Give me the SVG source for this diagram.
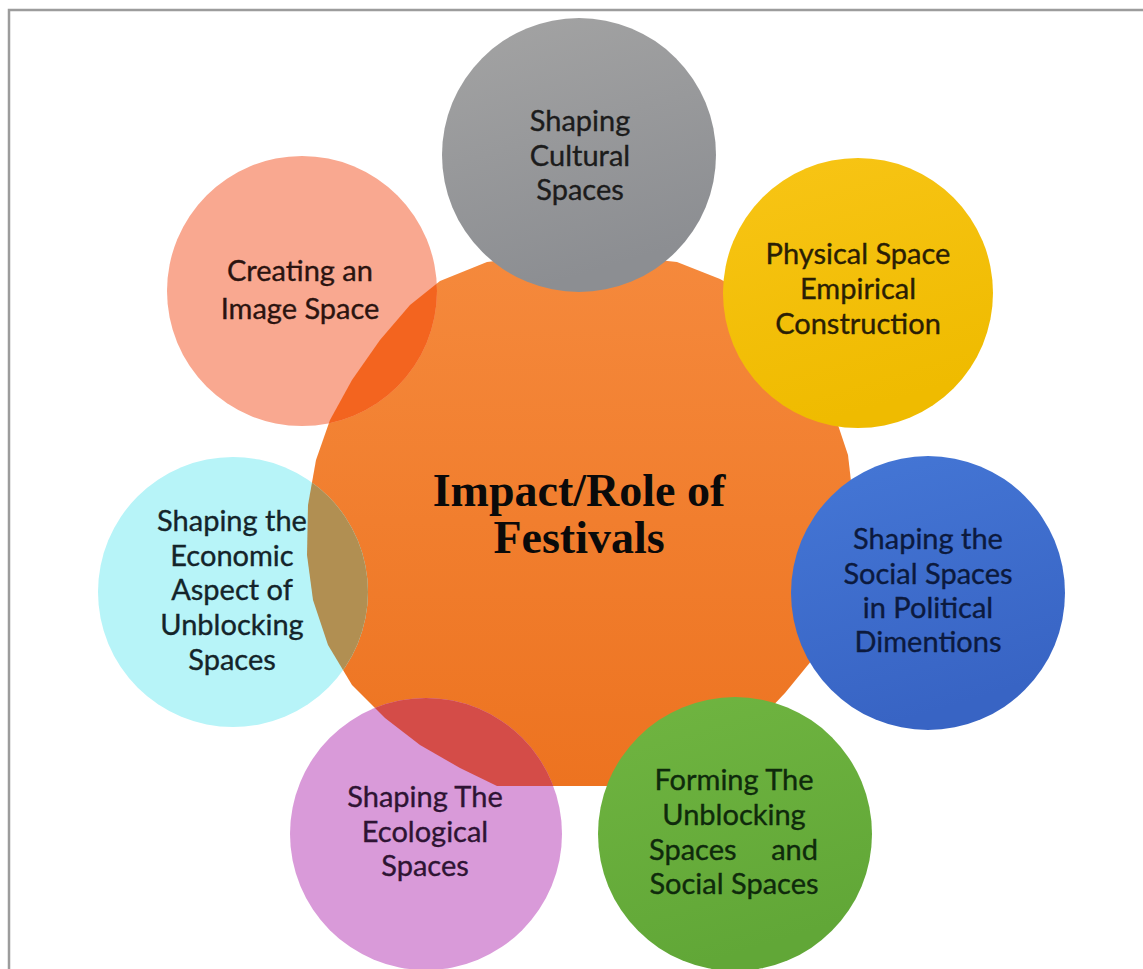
<svg xmlns="http://www.w3.org/2000/svg" width="1143" height="969" viewBox="0 0 1143 969">
  <style>
    .lbl { font-family: Lato, "Open Sans", "Liberation Sans", sans-serif; font-size: 29px; text-anchor: middle; fill: #1c1c1c; stroke-width: 0.35px; }
    .title { font-family: "Liberation Serif", "Times New Roman", serif; font-size: 46px; font-weight: bold; text-anchor: middle; fill: #0a0a0a; }
    .frame { stroke: #9c9c9c; stroke-width: 2.5; fill: none; }
  </style>
  <defs>
    <linearGradient id="gOrange" x1="0" y1="0" x2="0" y2="1">
      <stop offset="0" stop-color="#f5893c"/>
      <stop offset="1" stop-color="#ed7320"/>
    </linearGradient>
    <linearGradient id="gGray" x1="0" y1="0" x2="0.3" y2="1">
      <stop offset="0" stop-color="#a4a4a4"/>
      <stop offset="1" stop-color="#8c8e92"/>
    </linearGradient>
    <linearGradient id="gYellow" x1="0" y1="0" x2="0.3" y2="1">
      <stop offset="0" stop-color="#f8c516"/>
      <stop offset="1" stop-color="#efbb00"/>
    </linearGradient>
    <linearGradient id="gBlue" x1="0" y1="0" x2="0.3" y2="1">
      <stop offset="0" stop-color="#4577d6"/>
      <stop offset="1" stop-color="#3864c4"/>
    </linearGradient>
    <linearGradient id="gGreen" x1="0" y1="0" x2="0.3" y2="1">
      <stop offset="0" stop-color="#70b541"/>
      <stop offset="1" stop-color="#61a737"/>
    </linearGradient>
    <clipPath id="clipOrange">
      <path d="M580,256 L630,257 L677,262 L720,279 L760,302 L795,335 L822,385 L838,425 L848,455 L852,490 L852,530 L848,575 L835,620 L812,660 L785,693 L750,730 L710,760 L670,782 L657,786 L497,786 L460,768 L420,745 L385,718 L352,685 L328,645 L313,600 L307,555 L308,505 L316,460 L330,420 L352,380 L380,340 L410,305 L440,281 L487,262 L530,257 Z"/>
    </clipPath>
  </defs>

  <rect x="0" y="0" width="1143" height="969" fill="#ffffff"/>
  <path class="frame" d="M9,969 L9,10 L1143,10"/>

  <g id="node-center">
    <path d="M580,256 L630,257 L677,262 L720,279 L760,302 L795,335 L822,385 L838,425 L848,455 L852,490 L852,530 L848,575 L835,620 L812,660 L785,693 L750,730 L710,760 L670,782 L657,786 L497,786 L460,768 L420,745 L385,718 L352,685 L328,645 L313,600 L307,555 L308,505 L316,460 L330,420 L352,380 L380,340 L410,305 L440,281 L487,262 L530,257 Z" fill="url(#gOrange)"/>
  </g>

  <g id="node-cultural">
    <circle cx="579" cy="155" r="137" fill="url(#gGray)"/>
    <text class="lbl" x="580" y="131" style="stroke:#1c1c1c">Shaping</text>
    <text class="lbl" x="580" y="166" style="stroke:#1c1c1c">Cultural</text>
    <text class="lbl" x="580" y="200" style="stroke:#1c1c1c">Spaces</text>
  </g>

  <g id="node-physical">
    <circle cx="858" cy="293" r="135" fill="url(#gYellow)"/>
    <text class="lbl" x="858" y="264" style="fill:#2a1e05;stroke:#2a1e05">Physical Space</text>
    <text class="lbl" x="858" y="299" style="fill:#2a1e05;stroke:#2a1e05">Empirical</text>
    <text class="lbl" x="858" y="334" style="fill:#2a1e05;stroke:#2a1e05">Construction</text>
  </g>

  <g id="node-image">
    <circle cx="302" cy="291" r="135" fill="#f9a890"/>
    <circle cx="302" cy="291" r="135" fill="#f3641f" clip-path="url(#clipOrange)"/>
    <text class="lbl" x="300" y="281" style="fill:#2b1410;stroke:#2b1410">Creating an</text>
    <text class="lbl" x="300" y="319" style="fill:#2b1410;stroke:#2b1410">Image Space</text>
  </g>

  <g id="node-economic">
    <circle cx="233" cy="592" r="135" fill="#b7f4f8"/>
    <circle cx="233" cy="592" r="135" fill="#b18f52" clip-path="url(#clipOrange)"/>
    <text class="lbl" x="232" y="531" style="fill:#14242a;stroke:#14242a">Shaping the</text>
    <text class="lbl" x="232" y="566" style="fill:#14242a;stroke:#14242a">Economic</text>
    <text class="lbl" x="232" y="600" style="fill:#14242a;stroke:#14242a">Aspect of</text>
    <text class="lbl" x="232" y="635" style="fill:#14242a;stroke:#14242a">Unblocking</text>
    <text class="lbl" x="232" y="670" style="fill:#14242a;stroke:#14242a">Spaces</text>
  </g>

  <g id="node-political">
    <circle cx="928" cy="593" r="137" fill="url(#gBlue)"/>
    <text class="lbl" x="928" y="549" style="fill:#0c1a3e;stroke:#0c1a3e">Shaping the</text>
    <text class="lbl" x="928" y="584" style="fill:#0c1a3e;stroke:#0c1a3e">Social Spaces</text>
    <text class="lbl" x="928" y="618" style="fill:#0c1a3e;stroke:#0c1a3e">in Political</text>
    <text class="lbl" x="928" y="652" style="fill:#0c1a3e;stroke:#0c1a3e">Dimentions</text>
  </g>

  <g id="node-ecological">
    <circle cx="426" cy="834" r="136" fill="#d99ad9"/>
    <circle cx="426" cy="834" r="136" fill="#d44c48" clip-path="url(#clipOrange)"/>
    <text class="lbl" x="425" y="807" style="fill:#2e1433;stroke:#2e1433">Shaping The</text>
    <text class="lbl" x="425" y="842" style="fill:#2e1433;stroke:#2e1433">Ecological</text>
    <text class="lbl" x="425" y="876" style="fill:#2e1433;stroke:#2e1433">Spaces</text>
  </g>

  <g id="node-unblocking">
    <circle cx="735" cy="834" r="137" fill="url(#gGreen)"/>
    <text class="lbl" x="734" y="790" style="fill:#0f2a0c;stroke:#0f2a0c">Forming The</text>
    <text class="lbl" x="734" y="825" style="fill:#0f2a0c;stroke:#0f2a0c">Unblocking</text>
    <text class="lbl" y="860" style="fill:#0f2a0c;stroke:#0f2a0c"><tspan x="649" text-anchor="start">Spaces</tspan><tspan x="818" text-anchor="end">and</tspan></text>
    <text class="lbl" x="734" y="894" style="fill:#0f2a0c;stroke:#0f2a0c">Social Spaces</text>
  </g>

  <g id="title">
    <text class="title" x="579" y="506">Impact/Role of</text>
    <text class="title" x="579" y="553">Festivals</text>
  </g>

  <g id="connectors"></g>
</svg>
